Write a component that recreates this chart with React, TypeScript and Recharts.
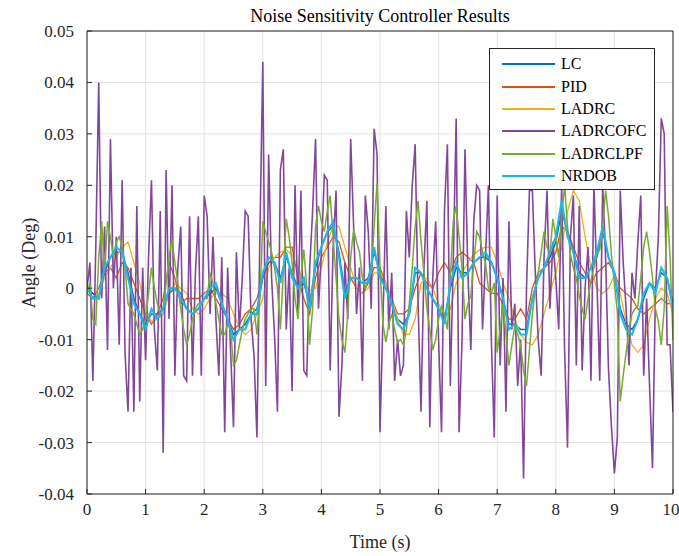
import React from 'react';
import { LineChart, Line, XAxis, YAxis, CartesianGrid, ReferenceLine } from 'recharts';

// sample spacing (s) of each recorded series
const FINE_STEP = 0.05;
const COARSE_STEP = 0.1;

const X_TICKS = [0, 1, 2, 3, 4, 5, 6, 7, 8, 9, 10];
const Y_TICKS = [-0.04, -0.03, -0.02, -0.01, 0, 0.01, 0.02, 0.03, 0.04, 0.05];
const X_MAX = 10;
const Y_MAX = 0.05;

// LC, 0.1 s spacing
const lc = [
  0.0, -0.001, -0.002, 0.003, 0.006, 0.007, 0.007, 0.003, -0.002, -0.005,
  -0.007, -0.005, -0.005, -0.004, -0.001, 0.0, -0.001, -0.004, -0.005, -0.004,
  -0.002, -0.001, 0.0, -0.003, -0.006, -0.009, -0.008, -0.007, -0.005, -0.004,
  0.002, 0.005, 0.005, 0.002, 0.006, 0.003, 0.0, 0.001, -0.003, 0.004,
  0.008, 0.011, 0.012, 0.007, -0.001, 0.002, 0.002, 0.001, 0.002, 0.007,
  0.003, 0.0, -0.003, -0.006, -0.007, -0.005, 0.003, 0.003, 0.0, -0.002,
  -0.004, -0.006, 0.0, 0.004, 0.003, 0.003, 0.005, 0.006, 0.006, 0.005,
  0.002, -0.002, -0.007, -0.007, -0.008, -0.008, -0.002, 0.002, 0.004, 0.006,
  0.009, 0.015, 0.011, 0.007, 0.003, 0.002, 0.004, 0.006, 0.011, 0.006,
  0.003, -0.004, -0.007, -0.008, -0.006, -0.002, 0.001, 0.0, 0.003, 0.002,
  -0.003,
];

// PID, 0.1 s spacing
const pid = [
  -0.001, -0.002, 0.0, 0.003, 0.004, 0.002, 0.005, 0.004, 0.001, -0.002,
  -0.005, -0.007, -0.005, -0.002, 0.005, 0.002, -0.003, -0.002, -0.002, -0.002,
  -0.001, 0.0, -0.002, -0.004, -0.006, -0.008, -0.007, -0.005, -0.004, -0.002,
  0.002, 0.005, 0.006, 0.006, 0.008, 0.008, 0.002, -0.002, -0.005, 0.002,
  0.006, 0.008, 0.01, 0.009, 0.005, 0.002, 0.0, -0.001, 0.001, 0.004,
  0.004, 0.001, -0.002, -0.005, -0.005, -0.004, 0.0, 0.003, 0.001, 0.0,
  0.003, 0.005, 0.003, 0.006, 0.007, 0.006, 0.005, 0.001, 0.0, -0.001,
  -0.001, -0.003, -0.006, -0.006, -0.004, -0.006, 0.0, 0.003, 0.004, 0.005,
  0.007, 0.012, 0.011, 0.008, 0.005, 0.003, 0.001, 0.003, 0.004, 0.005,
  0.003, 0.0, -0.001, -0.002, -0.004, -0.005, -0.004, -0.003, -0.002, -0.003,
  -0.003,
];

// LADRC, 0.1 s spacing
const ladrc = [
  0.0, -0.002, -0.001, 0.002, 0.004, 0.006, 0.008, 0.009, 0.005, 0.001,
  -0.004, -0.0065, -0.006, -0.005, -0.001, 0.001, 0.0, -0.001, -0.004, -0.005,
  -0.004, -0.002, -0.001, -0.001, -0.002, -0.005, -0.0075, -0.009, -0.008, -0.005,
  -0.002, 0.004, 0.006, 0.007, 0.0075, 0.0065, 0.004, 0.001, -0.0005, 0.0,
  0.004, 0.009, 0.012, 0.012, 0.008, 0.004, 0.0, -0.001, 0.0, 0.003,
  0.003, 0.001, -0.002, -0.006, -0.009, -0.009, -0.006, 0.001, 0.002, 0.0,
  -0.003, -0.006, -0.004, 0.001, 0.003, 0.005, 0.0065, 0.0075, 0.008, 0.008,
  0.005, 0.001, -0.002, -0.006, -0.009, -0.0105, -0.011, -0.009, -0.005, -0.001,
  0.003, 0.008, 0.015, 0.019, 0.017, 0.01, 0.004, 0.0, -0.001, 0.0,
  0.0025, -0.001, -0.0065, -0.011, -0.0125, -0.011, -0.006, -0.002, 0.0, -0.001,
  -0.005,
];

// LADRCOFC, 0.05 s spacing
const ladrcofc = [
  0.0, 0.005, -0.018, 0.008, 0.04, -0.002, 0.012, -0.012, 0.029, 0.0,
  0.01, -0.011, 0.021, -0.013, -0.024, 0.004, -0.024, 0.016, -0.022, 0.004,
  -0.014, 0.006, 0.021, -0.008, -0.016, 0.015, -0.032, 0.023, -0.006, 0.02,
  -0.017, 0.004, 0.012, -0.017, -0.018, 0.014, -0.017, 0.003, 0.014, -0.017,
  0.018, 0.014, -0.005, 0.01, -0.006, -0.017, 0.006, -0.028, 0.004, -0.012,
  -0.027, 0.007, -0.008, 0.002, 0.015, 0.014, -0.006, -0.013, -0.029, 0.01,
  0.044, -0.019, 0.026, 0.002, -0.009, -0.024, 0.023, 0.027, -0.008, 0.004,
  -0.02, 0.02, -0.005, 0.019, -0.016, -0.017, 0.004, 0.015, 0.029, -0.004,
  0.007, 0.022, 0.021, -0.016, 0.008, 0.019, -0.025, -0.015, 0.005, -0.006,
  0.029, 0.012, -0.005, 0.004, -0.018, 0.018, 0.011, -0.004, 0.031, 0.026,
  -0.028, -0.006, 0.016, -0.008, 0.003, -0.018, -0.01, -0.017, -0.015, 0.015,
  0.006, 0.02, 0.028, -0.003, -0.024, 0.004, 0.017, -0.027, 0.002, 0.013,
  -0.01, -0.028, 0.015, 0.028, -0.019, 0.005, 0.033, -0.028, -0.01, 0.027,
  0.003, -0.012, 0.013, 0.02, 0.019, -0.008, 0.006, 0.02, -0.01, -0.029,
  0.018, -0.015, 0.002, -0.024, 0.013, -0.008, -0.003, -0.019, -0.01, -0.037,
  0.0, 0.019, 0.019, 0.003, -0.01, -0.017, 0.006, 0.019, -0.004, 0.009,
  0.002, -0.008, 0.02, -0.012, -0.031, 0.01, 0.018, -0.015, 0.016, -0.016,
  0.0, 0.008, -0.018, 0.02, 0.002, -0.018, 0.02, 0.006, -0.016, -0.027,
  -0.036, -0.029, 0.019, 0.005, -0.004, -0.015, 0.003, -0.002, 0.009, 0.018,
  -0.017, -0.002, -0.019, -0.035, -0.001, 0.01, 0.033, 0.03, -0.011, -0.011,
  -0.024,
];

// LADRCLPF, 0.05 s spacing
const ladrclpf = [
  -0.001, 0.001, -0.006, -0.007, 0.006, 0.013, 0.003, 0.013, 0.01, 0.006,
  0.009, 0.01, 0.008, 0.004, -0.003, -0.004, -0.005, -0.007, -0.009, -0.008,
  -0.006, -0.001, 0.004, 0.0, -0.003, -0.005, -0.004, 0.001, 0.006, 0.0095,
  0.005, 0.001, -0.004, -0.008, -0.011, -0.009, -0.006, -0.004, -0.003, -0.003,
  -0.002, -0.002, 0.003, 0.001, -0.003, -0.006, -0.009, -0.009, -0.007, -0.008,
  -0.015, -0.014, -0.011, -0.008, -0.006, -0.005, -0.004, -0.004, -0.009, -0.002,
  0.013, 0.011, 0.009, 0.007, 0.004, 0.0, -0.008, 0.003, 0.0135, 0.01,
  0.005, -0.002, -0.006, 0.002, 0.0075, 0.0, -0.011, -0.004, 0.012, 0.016,
  0.013, 0.011, 0.015, 0.018, 0.01, 0.002, -0.006, -0.01, -0.0125, -0.005,
  0.006, 0.0115, 0.009, 0.007, 0.002, 0.0, 0.002, 0.003, 0.012, 0.0205,
  0.004, -0.007, -0.0105, -0.007, -0.005, -0.008, -0.0105, -0.01, -0.011, -0.008,
  -0.003, 0.004, 0.012, 0.017, 0.009, 0.003, -0.004, -0.008, -0.012, -0.01,
  -0.006, -0.0035, -0.005, -0.008, 0.002, 0.013, 0.016, 0.01, 0.004, -0.006,
  -0.003, -0.0015, 0.005, 0.011, 0.01, 0.007, 0.005, 0.0, -0.001, 0.001,
  -0.0125, -0.008, -0.003, -0.009, -0.015, -0.011, -0.0075, -0.009, -0.011, -0.016,
  -0.019, -0.012, -0.005, 0.0, 0.003, 0.007, 0.011, 0.008, 0.0065, 0.0135,
  0.01, 0.006, 0.014, 0.02, 0.012, 0.0065, 0.004, 0.002, -0.0015, -0.004,
  -0.006, -0.002, 0.0015, 0.004, 0.0065, 0.0075, 0.012, 0.019, 0.014, 0.0065,
  0.001, -0.0045, -0.022, -0.017, -0.0125, -0.008, -0.005, -0.004, -0.0035, 0.002,
  0.008, 0.011, 0.007, 0.002, -0.004, -0.0065, -0.011, -0.004, 0.016, 0.006,
  -0.01,
];

// NRDOB, 0.1 s spacing
const nrdob = [
  0.0, -0.002, -0.002, 0.004, 0.006, 0.008, 0.007, 0.002, -0.003, -0.005,
  -0.008, -0.004, -0.006, -0.004, 0.0, 0.0, -0.002, -0.004, -0.005, -0.004,
  -0.002, 0.0, 0.001, -0.003, -0.006, -0.01, -0.008, -0.008, -0.005, -0.005,
  0.003, 0.006, 0.005, 0.001, 0.007, 0.002, 0.0, 0.002, -0.004, 0.005,
  0.008, 0.011, 0.013, 0.006, -0.002, 0.002, 0.002, 0.001, 0.001, 0.008,
  0.002, 0.0, -0.003, -0.007, -0.008, -0.005, 0.004, 0.003, 0.0, -0.002,
  -0.004, -0.007, 0.001, 0.005, 0.002, 0.003, 0.005, 0.006, 0.007, 0.005,
  0.002, -0.002, -0.008, -0.007, -0.009, -0.009, -0.002, 0.002, 0.004, 0.007,
  0.01, 0.017, 0.01, 0.007, 0.002, 0.002, 0.004, 0.007, 0.012, 0.006,
  0.003, -0.005, -0.008, -0.009, -0.006, -0.001, 0.001, -0.001, 0.004, 0.002,
  -0.004,
];

const SERIES = [
  { key: 'LC', values: lc, step: COARSE_STEP, color: '#0072BD', width: 1.5 },
  { key: 'PID', values: pid, step: COARSE_STEP, color: '#D95319', width: 1.3 },
  { key: 'LADRC', values: ladrc, step: COARSE_STEP, color: '#EDB120', width: 1.3 },
  { key: 'LADRCOFC', values: ladrcofc, step: FINE_STEP, color: '#82469A', width: 1.6 },
  { key: 'LADRCLPF', values: ladrclpf, step: FINE_STEP, color: '#77AC30', width: 1.5 },
  { key: 'NRDOB', values: nrdob, step: COARSE_STEP, color: '#1DB7EA', width: 2 },
];

// one row per fine time sample; coarse series fill every other row
const chartData = ladrcofc.map((_, i) => {
  const row: Record<string, number | null> = { t: Math.round(i * FINE_STEP * 100) / 100 };
  SERIES.forEach((s) => {
    const ratio = Math.round(s.step / FINE_STEP);
    row[s.key] = i % ratio === 0 ? s.values[i / ratio] : null;
  });
  return row;
});

const FONT = 'Liberation Serif';
const AXIS_COLOR = '#262626';

const formatY = (v: number) => (v === 0 ? '0' : v.toFixed(2));

const XTick = (props: any) => (
  <text x={props.x} y={props.y} dy="0.71em" textAnchor="middle" fill={AXIS_COLOR} fontSize={17} fontFamily={FONT}>
    {props.payload.value}
  </text>
);

const YTick = (props: any) => (
  <text x={props.x} y={props.y} dy="0.355em" textAnchor="end" fill={AXIS_COLOR} fontSize={17} fontFamily={FONT}>
    {formatY(props.payload.value)}
  </text>
);

const ChartLegend = () => (
  <div
    style={{
      position: 'absolute',
      left: 489,
      top: 48,
      width: 166,
      height: 142,
      boxSizing: 'border-box',
      border: `1px solid ${AXIS_COLOR}`,
      background: '#fff',
      fontSize: 16,
      color: '#000',
      paddingTop: 4,
    }}
  >
    {SERIES.map((s) => (
      <div key={s.key} style={{ display: 'flex', alignItems: 'center', height: 22.4 }}>
        <svg width={70} height={4}>
          <line x1={12} x2={65} y1={2} y2={2} stroke={s.color} strokeWidth={2} />
        </svg>
        <span style={{ marginLeft: 1 }}>{s.key}</span>
      </div>
    ))}
  </div>
);

const textBase: React.CSSProperties = {
  position: 'absolute',
  fontSize: 18,
  lineHeight: '20px',
  whiteSpace: 'nowrap',
  textAlign: 'center',
};

export default function App() {
  return (
    <div style={{ position: 'absolute', left: 0, top: 0, width: 679, height: 556, background: '#fff', fontFamily: FONT }}>
      <LineChart width={679} height={556} data={chartData} margin={{ top: 31, right: 6, bottom: 0, left: 0 }}>
        <CartesianGrid stroke="#e3e3e3" strokeWidth={1} />
        <XAxis
          type="number"
          dataKey="t"
          domain={[0, X_MAX]}
          ticks={X_TICKS}
          allowDataOverflow
          height={62}
          stroke={AXIS_COLOR}
          tickSize={-5}
          tickMargin={14}
          tick={XTick}
        />
        <YAxis
          type="number"
          domain={[-0.04, Y_MAX]}
          ticks={Y_TICKS}
          allowDataOverflow
          width={87}
          stroke={AXIS_COLOR}
          tickSize={-5}
          tickMargin={18}
          tick={YTick}
        />
        {SERIES.map((s) => (
          <Line
            key={s.key}
            dataKey={s.key}
            name={s.key}
            type="linear"
            connectNulls
            stroke={s.color}
            strokeWidth={s.width}
            dot={false}
            activeDot={false}
            isAnimationActive={false}
          />
        ))}
        {/* box edges of the axes */}
        <ReferenceLine y={Y_MAX} stroke={AXIS_COLOR} strokeWidth={1} ifOverflow="visible" />
        <ReferenceLine x={X_MAX} stroke={AXIS_COLOR} strokeWidth={1} ifOverflow="visible" />
      </LineChart>
      <div style={{ ...textBase, left: 180, top: 6, width: 400, color: '#000' }}>
        Noise Sensitivity Controller Results
      </div>
      <div style={{ ...textBase, left: 280, top: 532, width: 200, color: AXIS_COLOR }}>Time (s)</div>
      <div
        style={{
          ...textBase,
          left: 29 - 100,
          top: 263 - 10,
          width: 200,
          color: AXIS_COLOR,
          transform: 'rotate(-90deg)',
        }}
      >
        Angle (Deg)
      </div>
      <ChartLegend />
    </div>
  );
}
